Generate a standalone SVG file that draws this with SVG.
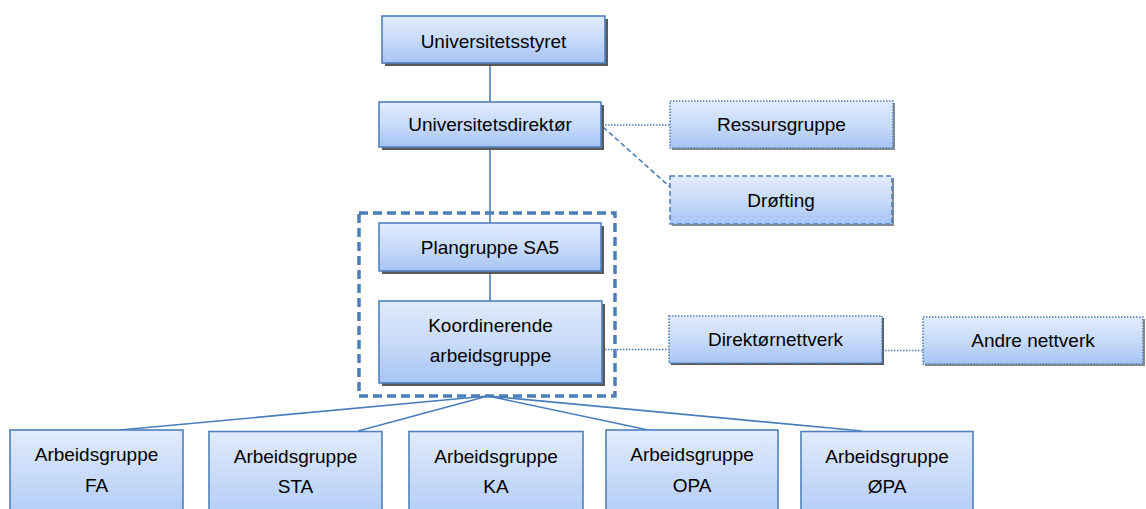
<svg xmlns="http://www.w3.org/2000/svg" width="1146" height="509" viewBox="0 0 1146 509">
<defs>
<linearGradient id="g" x1="0" y1="0" x2="0" y2="1">
<stop offset="0" stop-color="#e1ebfc"/>
<stop offset="0.5" stop-color="#c8dbf9"/>
<stop offset="1" stop-color="#a6c4f5"/>
</linearGradient>
<linearGradient id="gb" x1="0" y1="0" x2="0" y2="1">
<stop offset="0" stop-color="#e1ebfc"/>
<stop offset="1" stop-color="#aac7f5"/>
</linearGradient>
</defs>
<style>
.box{fill:url(#g);stroke:#4f81bd;stroke-width:1.6}
.bbox{fill:url(#gb);stroke:#4f81bd;stroke-width:1.6}
.dot{stroke-dasharray:1.5 1.5}
.dash{stroke-dasharray:5 3}
.sh{fill:#5a5a5a}
.shl{fill:#8a8a8a}
.t{font-family:"Liberation Sans",Arial,sans-serif;font-size:19px;fill:#000;text-anchor:middle}
.c{fill:none;stroke:#4a7ebb;stroke-width:1.6}
.cd{fill:none;stroke:#4a7ebb;stroke-width:1.6;stroke-dasharray:1.5 1.5}
.cdash{fill:none;stroke:#4a7ebb;stroke-width:1.6;stroke-dasharray:5 3}
</style>
<g id="connectors">
<line class="c" x1="490" y1="63" x2="490" y2="102"/>
<line class="c" x1="490" y1="147" x2="490" y2="223"/>
<line class="c" x1="490" y1="271" x2="490" y2="301"/>
<line class="cd" x1="602" y1="125" x2="670" y2="125"/>
<line class="cdash" x1="603" y1="127" x2="670" y2="187"/>
<line class="cd" x1="602" y1="349.5" x2="669" y2="349.5"/>
<line class="cd" x1="882" y1="350.5" x2="923" y2="350.5"/>
<line class="c" x1="488" y1="396" x2="120" y2="430"/>
<line class="c" x1="488" y1="396" x2="358" y2="431"/>
<line class="c" x1="488" y1="396" x2="653" y2="431"/>
<line class="c" x1="488" y1="396" x2="862" y2="431"/>
</g>
<g id="group-frame">
<rect x="359" y="213" width="256" height="183" fill="none" stroke="#4a7ebb" stroke-width="3.5" stroke-dasharray="9 5"/>
</g>
<g id="universitetsstyret">
<rect class="sh" x="385" y="19" width="223" height="47"/>
<rect class="box" x="382" y="16" width="223" height="47"/>
<text class="t" x="493.5" y="48">Universitetsstyret</text>
</g>
<g id="universitetsdirektor">
<rect class="sh" x="382" y="105" width="222" height="45"/>
<rect class="box" x="379" y="102" width="222" height="45"/>
<text class="t" x="490" y="131">Universitetsdirektør</text>
</g>
<g id="ressursgruppe">
<rect class="shl" x="672" y="103" width="223" height="47"/>
<rect class="box dot" x="670" y="101" width="223" height="47"/>
<text class="t" x="781.5" y="131">Ressursgruppe</text>
</g>
<g id="drofting">
<rect class="shl" x="672" y="178" width="222" height="48"/>
<rect class="box dash" x="670" y="176" width="222" height="48"/>
<text class="t" x="781" y="207">Drøfting</text>
</g>
<g id="plangruppe">
<rect class="sh" x="382" y="226" width="222" height="48"/>
<rect class="box" x="379" y="223" width="222" height="48"/>
<text class="t" x="490" y="254">Plangruppe SA5</text>
</g>
<g id="koordinerende">
<rect class="sh" x="382" y="304" width="223" height="82"/>
<rect class="box" x="379" y="301" width="223" height="82"/>
<text class="t" x="490.5" y="332">Koordinerende</text>
<text class="t" x="490.5" y="362">arbeidsgruppe</text>
</g>
<g id="direktornettverk">
<rect class="sh" x="671" y="318" width="213" height="47"/>
<rect class="box dot" x="669" y="316" width="213" height="47"/>
<text class="t" x="775.5" y="346">Direktørnettverk</text>
</g>
<g id="andre-nettverk">
<rect class="shl" x="925" y="319" width="220" height="47"/>
<rect class="box dot" x="923" y="317" width="220" height="47"/>
<text class="t" x="1033" y="347">Andre nettverk</text>
</g>
<g id="ag-fa">
<rect class="bbox" x="10" y="430" width="173" height="100"/>
<text class="t" x="96.5" y="461">Arbeidsgruppe</text>
<text class="t" x="96.5" y="492">FA</text>
</g>
<g id="ag-sta">
<rect class="bbox" x="209" y="431.5" width="173" height="100"/>
<text class="t" x="295.5" y="463">Arbeidsgruppe</text>
<text class="t" x="295.5" y="493">STA</text>
</g>
<g id="ag-ka">
<rect class="bbox" x="409" y="431.5" width="174" height="100"/>
<text class="t" x="496" y="463">Arbeidsgruppe</text>
<text class="t" x="496" y="493">KA</text>
</g>
<g id="ag-opa">
<rect class="bbox" x="606" y="430" width="172" height="100"/>
<text class="t" x="692" y="461">Arbeidsgruppe</text>
<text class="t" x="692" y="492">OPA</text>
</g>
<g id="ag-opa2">
<rect class="bbox" x="801" y="431.5" width="172" height="100"/>
<text class="t" x="887" y="463">Arbeidsgruppe</text>
<text class="t" x="887" y="493">ØPA</text>
</g>
</svg>
